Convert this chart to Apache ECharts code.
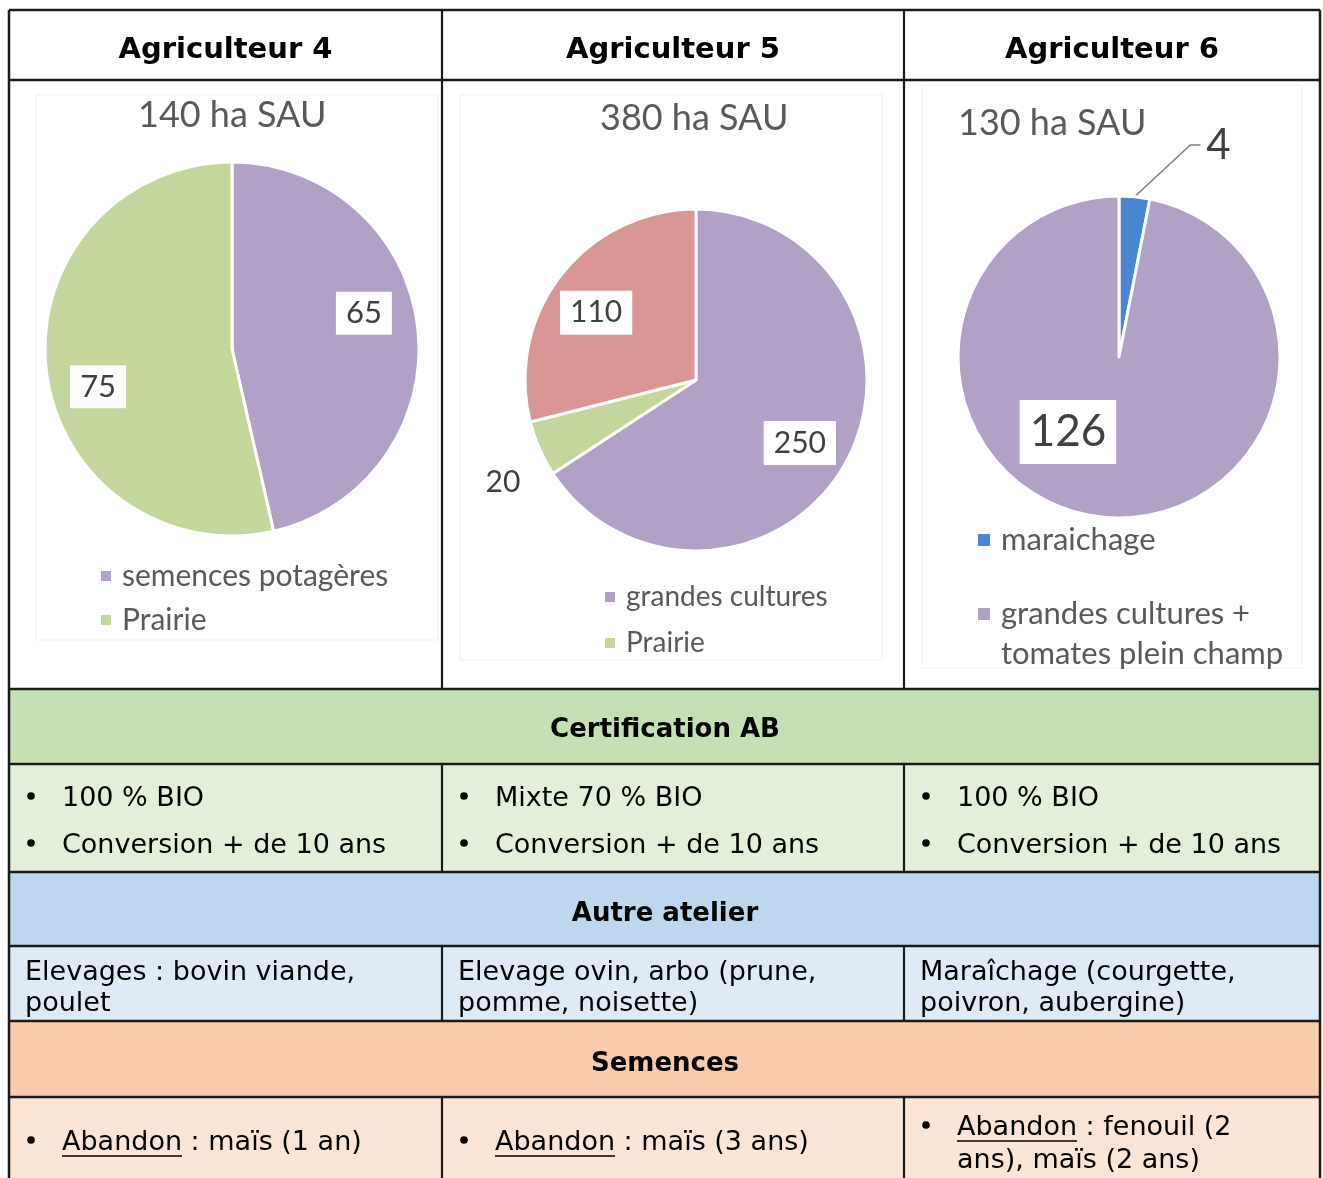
<!DOCTYPE html>
<html><head><meta charset="utf-8">
<script src="https://cdn.jsdelivr.net/npm/echarts@6.0.0/dist/echarts.min.js"></script>
<style>html,body{margin:0;padding:0;background:#fff}#c{width:1323px;height:1178px}</style>
</head><body><div id="c"></div>
<script>
// ---------- DATA ----------
const farmers = ['Agriculteur 4', 'Agriculteur 5', 'Agriculteur 6'];
const sauTitles = ['140 ha SAU', '380 ha SAU', '130 ha SAU'];

const pie1Names = ['semences potagères', 'Prairie'];
const pie1Values = [65, 75];

const pie2Names = ['grandes cultures', 'Prairie', 'Autre'];
const pie2Values = [250, 20, 110];

const pie3Names = ['maraichage', 'grandes cultures +\ntomates plein champ'];
const pie3Values = [4, 126];

const sectionTitles = ['Certification AB', 'Autre atelier', 'Semences'];
const certLines = [
  ['100 % BIO', 'Conversion + de 10 ans'],
  ['Mixte 70 % BIO', 'Conversion + de 10 ans'],
  ['100 % BIO', 'Conversion + de 10 ans']
];
const atelierLines = [
  ['Elevages : bovin viande,', 'poulet'],
  ['Elevage ovin, arbo (prune,', 'pomme, noisette)'],
  ['Maraîchage (courgette,', 'poivron, aubergine)']
];
const semencesLines = [
  [' : maïs (1 an)'],
  [' : maïs (3 ans)'],
  [' : fenouil (2', 'ans), maïs (2 ans)']
];
const semencesKey = 'Abandon';

// ---------- STYLE ----------
const PURPLE = '#B2A1C7', GREEN = '#C3D69B', RED = '#D99694', BLUE = '#4A86D0';
const TFONT = '"DejaVu Sans", Verdana, sans-serif';
const CFONT = 'Lato, Calibri, sans-serif';
const FS = 27;
const DY = 3;

const xL = 9, xR = 1320, c1 = 442, c2 = 904;
const rows = [10, 80, 689, 764, 872, 946, 1021, 1097, 1190];
const colStarts = [xL, c1, c2];
const colEnds = [c1, c2, xR];

const measure = (function () {
  const cv = document.createElement('canvas').getContext('2d');
  return function (t, f) { cv.font = f; return cv.measureText(t).width; };
})();

const g = [];
const bg = [
  [rows[0], rows[2], '#ffffff'],
  [rows[2], rows[3], '#C5E0B4'],
  [rows[3], rows[4], '#E2F0D9'],
  [rows[4], rows[5], '#BDD7EE'],
  [rows[5], rows[6], '#DEEBF7'],
  [rows[6], rows[7], '#F8CBAD'],
  [rows[7], rows[8], '#FBE5D6']
];
bg.forEach(b => g.push({ type: 'rect', z: -10, shape: { x: xL, y: b[0], width: xR - xL, height: b[1] - b[0] }, style: { fill: b[2] } }));

[[36, 95, 402, 545], [460, 95, 422, 565], [922, 85, 380, 583]].forEach(r =>
  g.push({ type: 'rect', z: -5, shape: { x: r[0], y: r[1], width: r[2], height: r[3] }, style: { fill: 'none', stroke: '#f0f0f0', lineWidth: 1 } }));

const LC = '#1a1a1a';
rows.slice(0, 8).forEach(y => g.push({ type: 'line', z: 10, shape: { x1: xL, y1: y, x2: xR, y2: y }, style: { stroke: LC, lineWidth: 2.5 } }));
[xL, xR].forEach(x => g.push({ type: 'line', z: 10, shape: { x1: x, y1: rows[0], x2: x, y2: 1178 }, style: { stroke: LC, lineWidth: 2.5 } }));
[[rows[0], rows[2]], [rows[3], rows[4]], [rows[5], rows[6]], [rows[7], 1178]].forEach(seg =>
  [c1, c2].forEach(x => g.push({ type: 'line', z: 10, shape: { x1: x, y1: seg[0], x2: x, y2: seg[1] }, style: { stroke: LC, lineWidth: 2.2 } })));

farmers.forEach((f, i) => g.push({
  type: 'text', z: 11, x: (colStarts[i] + colEnds[i]) / 2, y: 47 + DY,
  style: { text: f, font: 'bold 29px ' + TFONT, fill: '#000', align: 'center', verticalAlign: 'middle' }
}));
sectionTitles.forEach((s, i) => g.push({
  type: 'text', z: 11, x: 665, y: [727, 911, 1061][i] + DY,
  style: { text: s, font: 'bold 26px ' + TFONT, fill: '#000', align: 'center', verticalAlign: 'middle' }
}));

function bullet(x, y) {
  g.push({ type: 'circle', z: 11, shape: { cx: x + 3, cy: y, r: 3.8 }, style: { fill: '#000' } });
}
const body = FS + 'px ' + TFONT;
const T = (x, y, t) => g.push({ type: 'text', z: 11, x: x, y: y + DY, style: { text: t, font: body, fill: '#000', verticalAlign: 'middle' } });

certLines.forEach((lines, i) => {
  lines.forEach((t, j) => {
    const y = [796, 843][j];
    bullet(colStarts[i] + 19, y);
    T(colStarts[i] + 53, y, t);
  });
});
atelierLines.forEach((lines, i) => {
  lines.forEach((t, j) => T(colStarts[i] + 16, [970, 1001][j], t));
});
semencesLines.forEach((lines, i) => {
  const ys = lines.length === 1 ? [1140] : [1125, 1158];
  const tx = colStarts[i] + 53;
  const kw = measure(semencesKey, body);
  bullet(colStarts[i] + 19, ys[0]);
  T(tx, ys[0], semencesKey);
  g.push({ type: 'line', z: 11, shape: { x1: tx, y1: ys[0] + 16, x2: tx + kw, y2: ys[0] + 16 }, style: { stroke: '#000', lineWidth: 1.5 } });
  T(tx + kw, ys[0], lines[0]);
  if (lines[1]) T(tx, ys[1], lines[1]);
});

// ---------- CHART ----------
const boxLabel = (fs, pad) => ({
  show: true, position: 'inside', formatter: '{c}', fontSize: fs, fontFamily: CFONT,
  color: '#404040', backgroundColor: '#ffffff', padding: pad
});
const titleStyle = { fontSize: 36, fontWeight: 'normal', color: '#595959', fontFamily: CFONT };
const legendText = (fs, lh) => ({ fontSize: fs, color: '#595959', fontFamily: CFONT, lineHeight: lh, padding: [0, 0, 0, 5] });

const off1 = [{ dx: 36, dy: -25 }, { dx: -38, dy: 27 }];
const off2 = [{ dx: 26, dy: 21 }, { dx: -112, dy: 67 }, { dx: -30, dy: -13 }];

const ICON_ONE = 'path://M0,0L0.01,0M0,23L14,23L14,37L0,37ZM0,60L0.01,60';
const ICON_TOP = 'path://M0,0L0.01,0M0,3L14,3L14,17L0,17ZM0,60L0.01,60';

const option = {
  animation: false,
  backgroundColor: '#ffffff',
  graphic: { elements: g },
  title: [
    { text: sauTitles[0], left: 138, top: 97, padding: 0, textStyle: titleStyle },
    { text: sauTitles[1], left: 600, top: 100, padding: 0, textStyle: titleStyle },
    { text: sauTitles[2], left: 958, top: 105, padding: 0, textStyle: titleStyle }
  ],
  legend: [
    { data: pie1Names, orient: 'vertical', left: 99, top: 561, padding: 0, icon: 'rect', itemWidth: 12, itemHeight: 12, itemGap: 14, textStyle: legendText(30) },
    { data: pie2Names.slice(0, 2), orient: 'vertical', left: 603, top: 583, padding: 0, icon: 'rect', itemWidth: 12, itemHeight: 12, itemGap: 18, textStyle: legendText(28) },
    {
      data: [{ name: pie3Names[0], icon: ICON_ONE }, { name: pie3Names[1], icon: ICON_TOP }],
      orient: 'vertical', left: 976, top: 509, padding: 0, itemWidth: 14, itemHeight: 60, itemGap: 23,
      textStyle: legendText(31, 40)
    }
  ],
  series: [
    {
      type: 'pie', center: [232, 349], radius: 187, startAngle: 90, clockwise: true,
      itemStyle: { borderColor: '#fff', borderWidth: 3 },
      label: boxLabel(31, [6, 10]), labelLine: { show: false },
      labelLayout: p => off1[p.dataIndex],
      emphasis: { disabled: true },
      data: pie1Names.map((n, i) => ({ name: n, value: pie1Values[i], itemStyle: { color: [PURPLE, GREEN][i] } }))
    },
    {
      type: 'pie', center: [696, 380], radius: 171, startAngle: 90, clockwise: true,
      itemStyle: { borderColor: '#fff', borderWidth: 3 },
      label: boxLabel(30, [7, 10]), labelLine: { show: false },
      labelLayout: p => off2[p.dataIndex],
      emphasis: { disabled: true },
      data: pie2Names.map((n, i) => ({
        name: n, value: pie2Values[i], itemStyle: { color: [PURPLE, GREEN, RED][i] },
        label: i === 1 ? { backgroundColor: 'transparent' } : undefined
      }))
    },
    {
      type: 'pie', center: [1119, 357], radius: 161, startAngle: 90, clockwise: true,
      itemStyle: { borderColor: '#fff', borderWidth: 3 },
      label: boxLabel(44, [10, 10]), labelLine: { show: false },
      labelLayout: function (p) {
        if (p.dataIndex === 0) {
          return { x: p.labelRect.x + 46, y: p.labelRect.y + p.labelRect.height / 2 - 2 };
        }
        return { dx: -43, dy: -8 };
      },
      emphasis: { disabled: true },
      data: pie3Names.map((n, i) => ({
        name: n, value: pie3Values[i], itemStyle: { color: [BLUE, PURPLE][i] },
        label: i === 0 ? { position: 'outside', backgroundColor: 'transparent', fontSize: 42, padding: [0, 0, 0, 6] } : undefined,
        labelLine: i === 0 ? { show: true, length: 50, length2: 10, lineStyle: { color: '#7f7f7f', width: 1.5 } } : undefined
      }))
    }
  ]
};

const chart = echarts.init(document.getElementById('c'), null, { renderer: 'canvas' });
chart.setOption(option);
</script>
</body></html>
